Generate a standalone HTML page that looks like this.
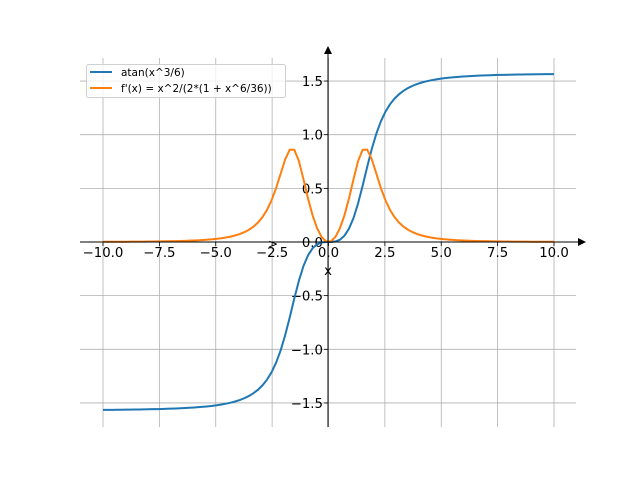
<!DOCTYPE html>
<html><head><meta charset="utf-8"><style>
html,body{margin:0;padding:0;background:#fff}
svg{display:block;font-family:"DejaVu Sans","Liberation Sans",sans-serif}
</style></head><body>
<svg id="s" width="640" height="480" viewBox="0 0 640 480" xmlns="http://www.w3.org/2000/svg">
<g id="grid" stroke="#b0b0b0" stroke-width="0.8"></g>
<g id="ticks" stroke="#000" stroke-width="0.8"></g>
<g id="labels" font-size="13.3" fill="#000"></g>
<path id="blue" fill="none" stroke="#1f77b4" stroke-width="2"/>
<path id="orange" fill="none" stroke="#ff7f0e" stroke-width="2"/>
<line x1="80" y1="242" x2="580" y2="242" stroke="#000" stroke-width="1"/>
<polygon points="586,242 578,238 578,246" fill="#000"/>
<line x1="328" y1="427" x2="328" y2="53" stroke="#000" stroke-width="1"/>
<polygon points="328,46 324,54 332,54" fill="#000"/>
<text x="328" y="275" font-size="13.3" text-anchor="middle">x</text>
<text x="268" y="248" font-size="12">&gt;</text>
<rect x="86.5" y="64.5" width="199" height="33" rx="2" fill="#fff" fill-opacity="0.8" stroke="#d0d0d0"/>
<line x1="90" y1="72" x2="112" y2="72" stroke="#1f77b4" stroke-width="2"/>
<line x1="90" y1="88" x2="112" y2="88" stroke="#ff7f0e" stroke-width="2"/>
<text x="121" y="76" font-size="10.5">atan(x^3/6)</text>
<text x="121" y="92" font-size="10.5">f'(x) = x^2/(2*(1 + x^6/36))</text>
</svg>
<script>
const X=x=>328.5+x*22.55, Y=y=>242-y*107.3;
const g=document.getElementById('grid'),t=document.getElementById('ticks'),l=document.getElementById('labels');
const ns='http://www.w3.org/2000/svg';
function el(p,n,a,txt){const e=document.createElementNS(ns,n);for(const k in a)e.setAttribute(k,a[k]);if(txt!==undefined)e.textContent=txt;p.appendChild(e);}
for(let v=-10;v<=10;v+=2.5){const px=X(v);el(g,'line',{x1:px,y1:58,x2:px,y2:427});el(t,'line',{x1:px,y1:242,x2:px,y2:246});
el(l,'text',{x:px,y:257,'text-anchor':'middle'},(v<0?'\u2212':'')+Math.abs(v).toFixed(1));}
for(let v=-1.5;v<=1.51;v+=0.5){const py=Y(v);el(g,'line',{x1:80,y1:py,x2:576,y2:py});el(t,'line',{x1:324,y1:py,x2:328,y2:py});
el(l,'text',{x:323,y:py+5,'text-anchor':'end'},(v<-0.01?'\u2212':'')+Math.abs(v).toFixed(1));}
let b='',o='';
for(let i=0;i<100;i++){const x=-10+20*i/99;const y1=Math.atan(x**3/6),y2=x*x/(2*(1+x**6/36));
b+=(i?'L':'M')+X(x).toFixed(2)+','+Y(y1).toFixed(2);o+=(i?'L':'M')+X(x).toFixed(2)+','+Y(y2).toFixed(2);}
document.getElementById('blue').setAttribute('d',b);document.getElementById('orange').setAttribute('d',o);
</script>
</body></html>
